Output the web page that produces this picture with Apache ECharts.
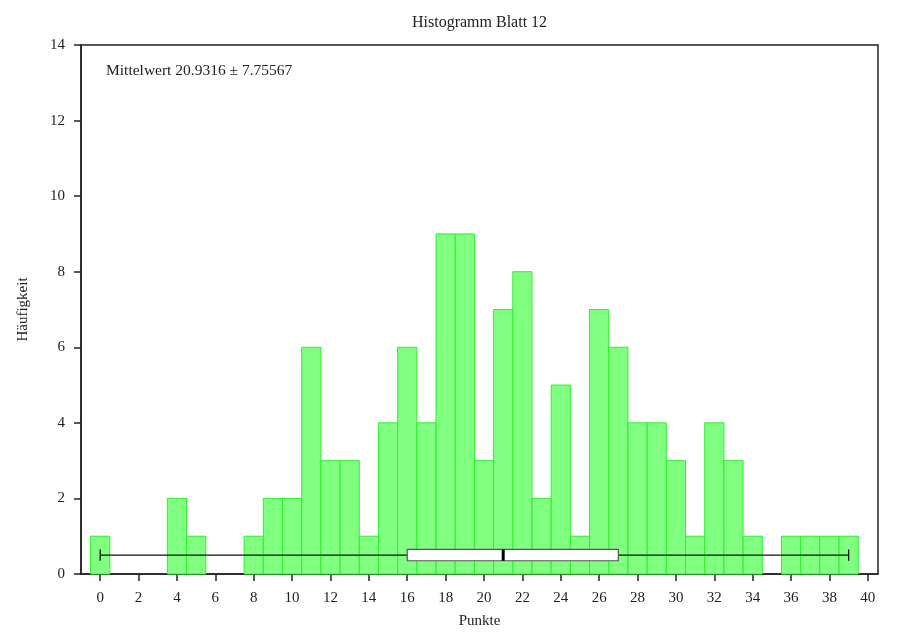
<!DOCTYPE html>
<html>
<head>
<meta charset="utf-8">
<script src="https://cdn.jsdelivr.net/npm/echarts@6/dist/echarts.min.js"></script>
<style>html,body{margin:0;padding:0;background:#fff;}#c{width:900px;height:640px;}</style>
</head>
<body>
<div id="c"></div>
<script>
const titleText = 'Histogramm Blatt 12';
const xName = 'Punkte';
const yName = 'Häufigkeit';
const statText = 'Mittelwert 20.9316 ± 7.75567';
const binCenters = [0,1,2,3,4,5,6,7,8,9,10,11,12,13,14,15,16,17,18,19,20,21,22,23,24,25,26,27,28,29,30,31,32,33,34,35,36,37,38,39];
const counts = [1,0,0,0,2,1,0,0,1,2,2,6,3,3,1,4,6,4,9,9,3,7,8,2,5,1,7,6,4,4,3,1,4,3,1,0,1,1,1,1];
const xTicks = [0,2,4,6,8,10,12,14,16,18,20,22,24,26,28,30,32,34,36,38,40];
// box plot: [min, q1, median, q3, max, y position]
const boxStats = [0, 16, 21, 27, 39, 0.5];
const boxHalf = 0.15;

const FONT = '"Liberation Serif", "DejaVu Serif", serif';
const chart = echarts.init(document.getElementById('c'), null, {renderer:'canvas'});
const histData = binCenters.map((x,i)=>[x, counts[i]]);

chart.setOption({
  backgroundColor:'#ffffff',
  animation:false,
  title:{text:titleText, left:412, top:15, padding:0,
    textStyle:{fontFamily:FONT, fontSize:16, fontWeight:'normal', color:'#222'}},
  grid:{left:81, right:22, top:45, bottom:66, show:true, borderColor:'#222', borderWidth:1.5, backgroundColor:'transparent'},
  xAxis:{type:'value', min:-1, max:40.53,
    name:xName, nameLocation:'middle', nameGap:40,
    nameTextStyle:{fontFamily:FONT, fontSize:15, color:'#222'},
    axisLine:{show:true, onZero:false, lineStyle:{color:'#222', width:1.5}},
    axisTick:{show:true, length:7, customValues:xTicks, lineStyle:{color:'#222', width:1.5}},
    axisLabel:{customValues:xTicks, margin:17, fontFamily:FONT, fontSize:15, color:'#222'},
    splitLine:{show:false}},
  yAxis:{type:'value', min:0, max:14, interval:2,
    name:yName, nameLocation:'middle', nameGap:50, nameRotate:90,
    nameTextStyle:{fontFamily:FONT, fontSize:15, color:'#222'},
    axisLine:{show:true, onZero:false, lineStyle:{color:'#222', width:1.5}},
    axisTick:{show:true, length:7, lineStyle:{color:'#222', width:1.5}},
    axisLabel:{margin:16, fontFamily:FONT, fontSize:15, color:'#222'},
    splitLine:{show:false}},
  graphic:[{type:'text', left:106, top:63, style:{text:statText, font:'15.5px ' + FONT, fill:'#222'}}],
  series:[
    {type:'custom', data:histData, encode:{x:0,y:1},
     renderItem:function(params, api){
       const x = api.value(0), y = api.value(1);
       if (!y) return null;
       const p0 = api.coord([x-0.5, y]);
       const p1 = api.coord([x+0.5, 0]);
       return {type:'rect', shape:{x:p0[0], y:p0[1], width:p1[0]-p0[0], height:p1[1]-p0[1]},
         style:{fill:'#80ff80', stroke:'#2ef02e', lineWidth:1}};
     }},
    {type:'custom', data:[boxStats], encode:{x:[0,4], y:5}, z:5,
     renderItem:function(params, api){
       const mn=api.value(0), q1=api.value(1), md=api.value(2), q3=api.value(3), mx=api.value(4), yy=api.value(5);
       const a = api.coord([mn, yy]), b = api.coord([q1, yy]), c = api.coord([q3, yy]), d = api.coord([mx, yy]);
       const top = api.coord([mn, yy+boxHalf])[1], bot = api.coord([mn, yy-boxHalf])[1];
       const m = api.coord([md, yy]);
       return {type:'group', children:[
         {type:'line', shape:{x1:a[0], y1:a[1], x2:b[0], y2:b[1]}, style:{stroke:'#111', lineWidth:1.3}},
         {type:'line', shape:{x1:c[0], y1:c[1], x2:d[0], y2:d[1]}, style:{stroke:'#111', lineWidth:1.3}},
         {type:'line', shape:{x1:a[0], y1:top, x2:a[0], y2:bot}, style:{stroke:'#111', lineWidth:1.3}},
         {type:'line', shape:{x1:d[0], y1:top, x2:d[0], y2:bot}, style:{stroke:'#111', lineWidth:1.3}},
         {type:'rect', shape:{x:b[0], y:top, width:c[0]-b[0], height:bot-top}, style:{fill:'#fff', stroke:'#555', lineWidth:1.2}},
         {type:'line', shape:{x1:m[0], y1:top, x2:m[0], y2:bot}, style:{stroke:'#000', lineWidth:3}}
       ]};
     }}
  ]
});
</script>
</body>
</html>
